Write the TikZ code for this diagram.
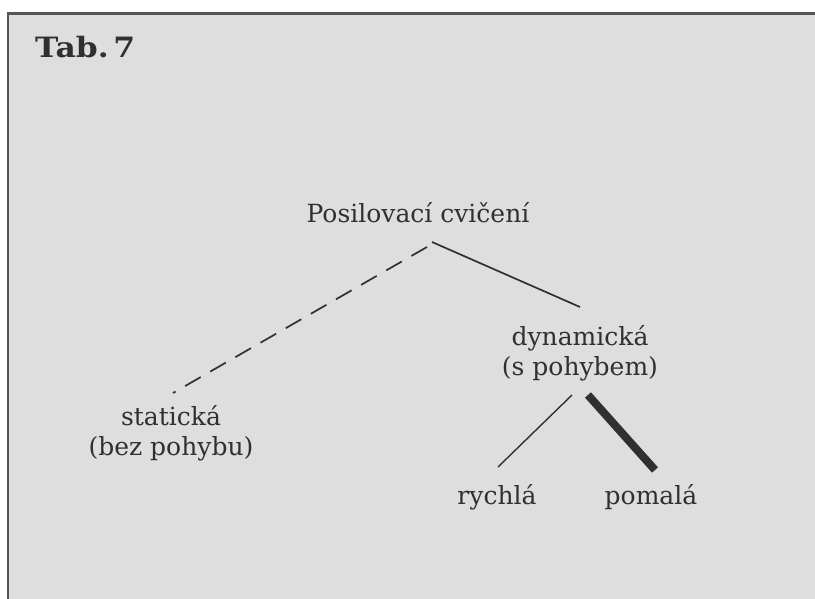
\documentclass[tikz,border=0pt]{standalone}
\usepackage{fontspec}
\setmainfont{DejaVu Serif}
\newfontfamily\tabfont[FakeStretch=1.12]{DejaVu Serif}
\definecolor{paper}{RGB}{222,222,222}
\definecolor{ink}{RGB}{48,48,48}
\definecolor{rule}{RGB}{85,85,85}
\begin{document}
\begin{tikzpicture}[
	x=1pt, y=-1pt,
	every node/.style = {font=\fontsize{25}{30}\selectfont, text=ink, align=center, inner sep=0pt},
	branch/.style = {draw=ink, line width=1.7pt},
]
	\useasboundingbox (0,0) rectangle (815,599);
	% page and frame
	\fill[white] (0,0) rectangle (815,599);
	\fill[paper] (8,14) rectangle (815,599);
	\draw[rule, line width=3pt] (6.5,14) -- (815,14);
	\draw[rule, line width=2pt] (8,14) -- (8,599);

	\node [font=\tabfont\fontsize{28}{30}\selectfont\bfseries, anchor=base west] (tab) at (35,58) {Tab.\,7};

	\node (post) at (418,213) {Posilovací cvičení};
	\node (stat) at (171,433) {statická\\(bez pohybu)};
	\node (dyn)  at (580,353) {dynamická\\(s pohybem)};
	\node (rych) at (497,497) {rychlá};
	\node (pom)  at (651,497) {pomalá};

	\coordinate (post-l) at (427,247);
	\coordinate (post-r) at (432,242);
	\coordinate (stat-t) at (173,393);
	\coordinate (dyn-t)  at (580,307);
	\coordinate (dyn-l)  at (572,395);
	\coordinate (dyn-r)  at (588,395);
	\coordinate (rych-t) at (498,467);
	\coordinate (pom-t)  at (655,470);

	\draw [branch, dash pattern=on 18pt off 11pt] (post-l) -- (stat-t);
	\draw [branch] (post-r) -- (dyn-t);
	\draw [branch, line width=1.4pt] (dyn-l) -- (rych-t);
	\draw [branch, line width=8pt] (dyn-r) -- (pom-t);
\end{tikzpicture}
\end{document}
